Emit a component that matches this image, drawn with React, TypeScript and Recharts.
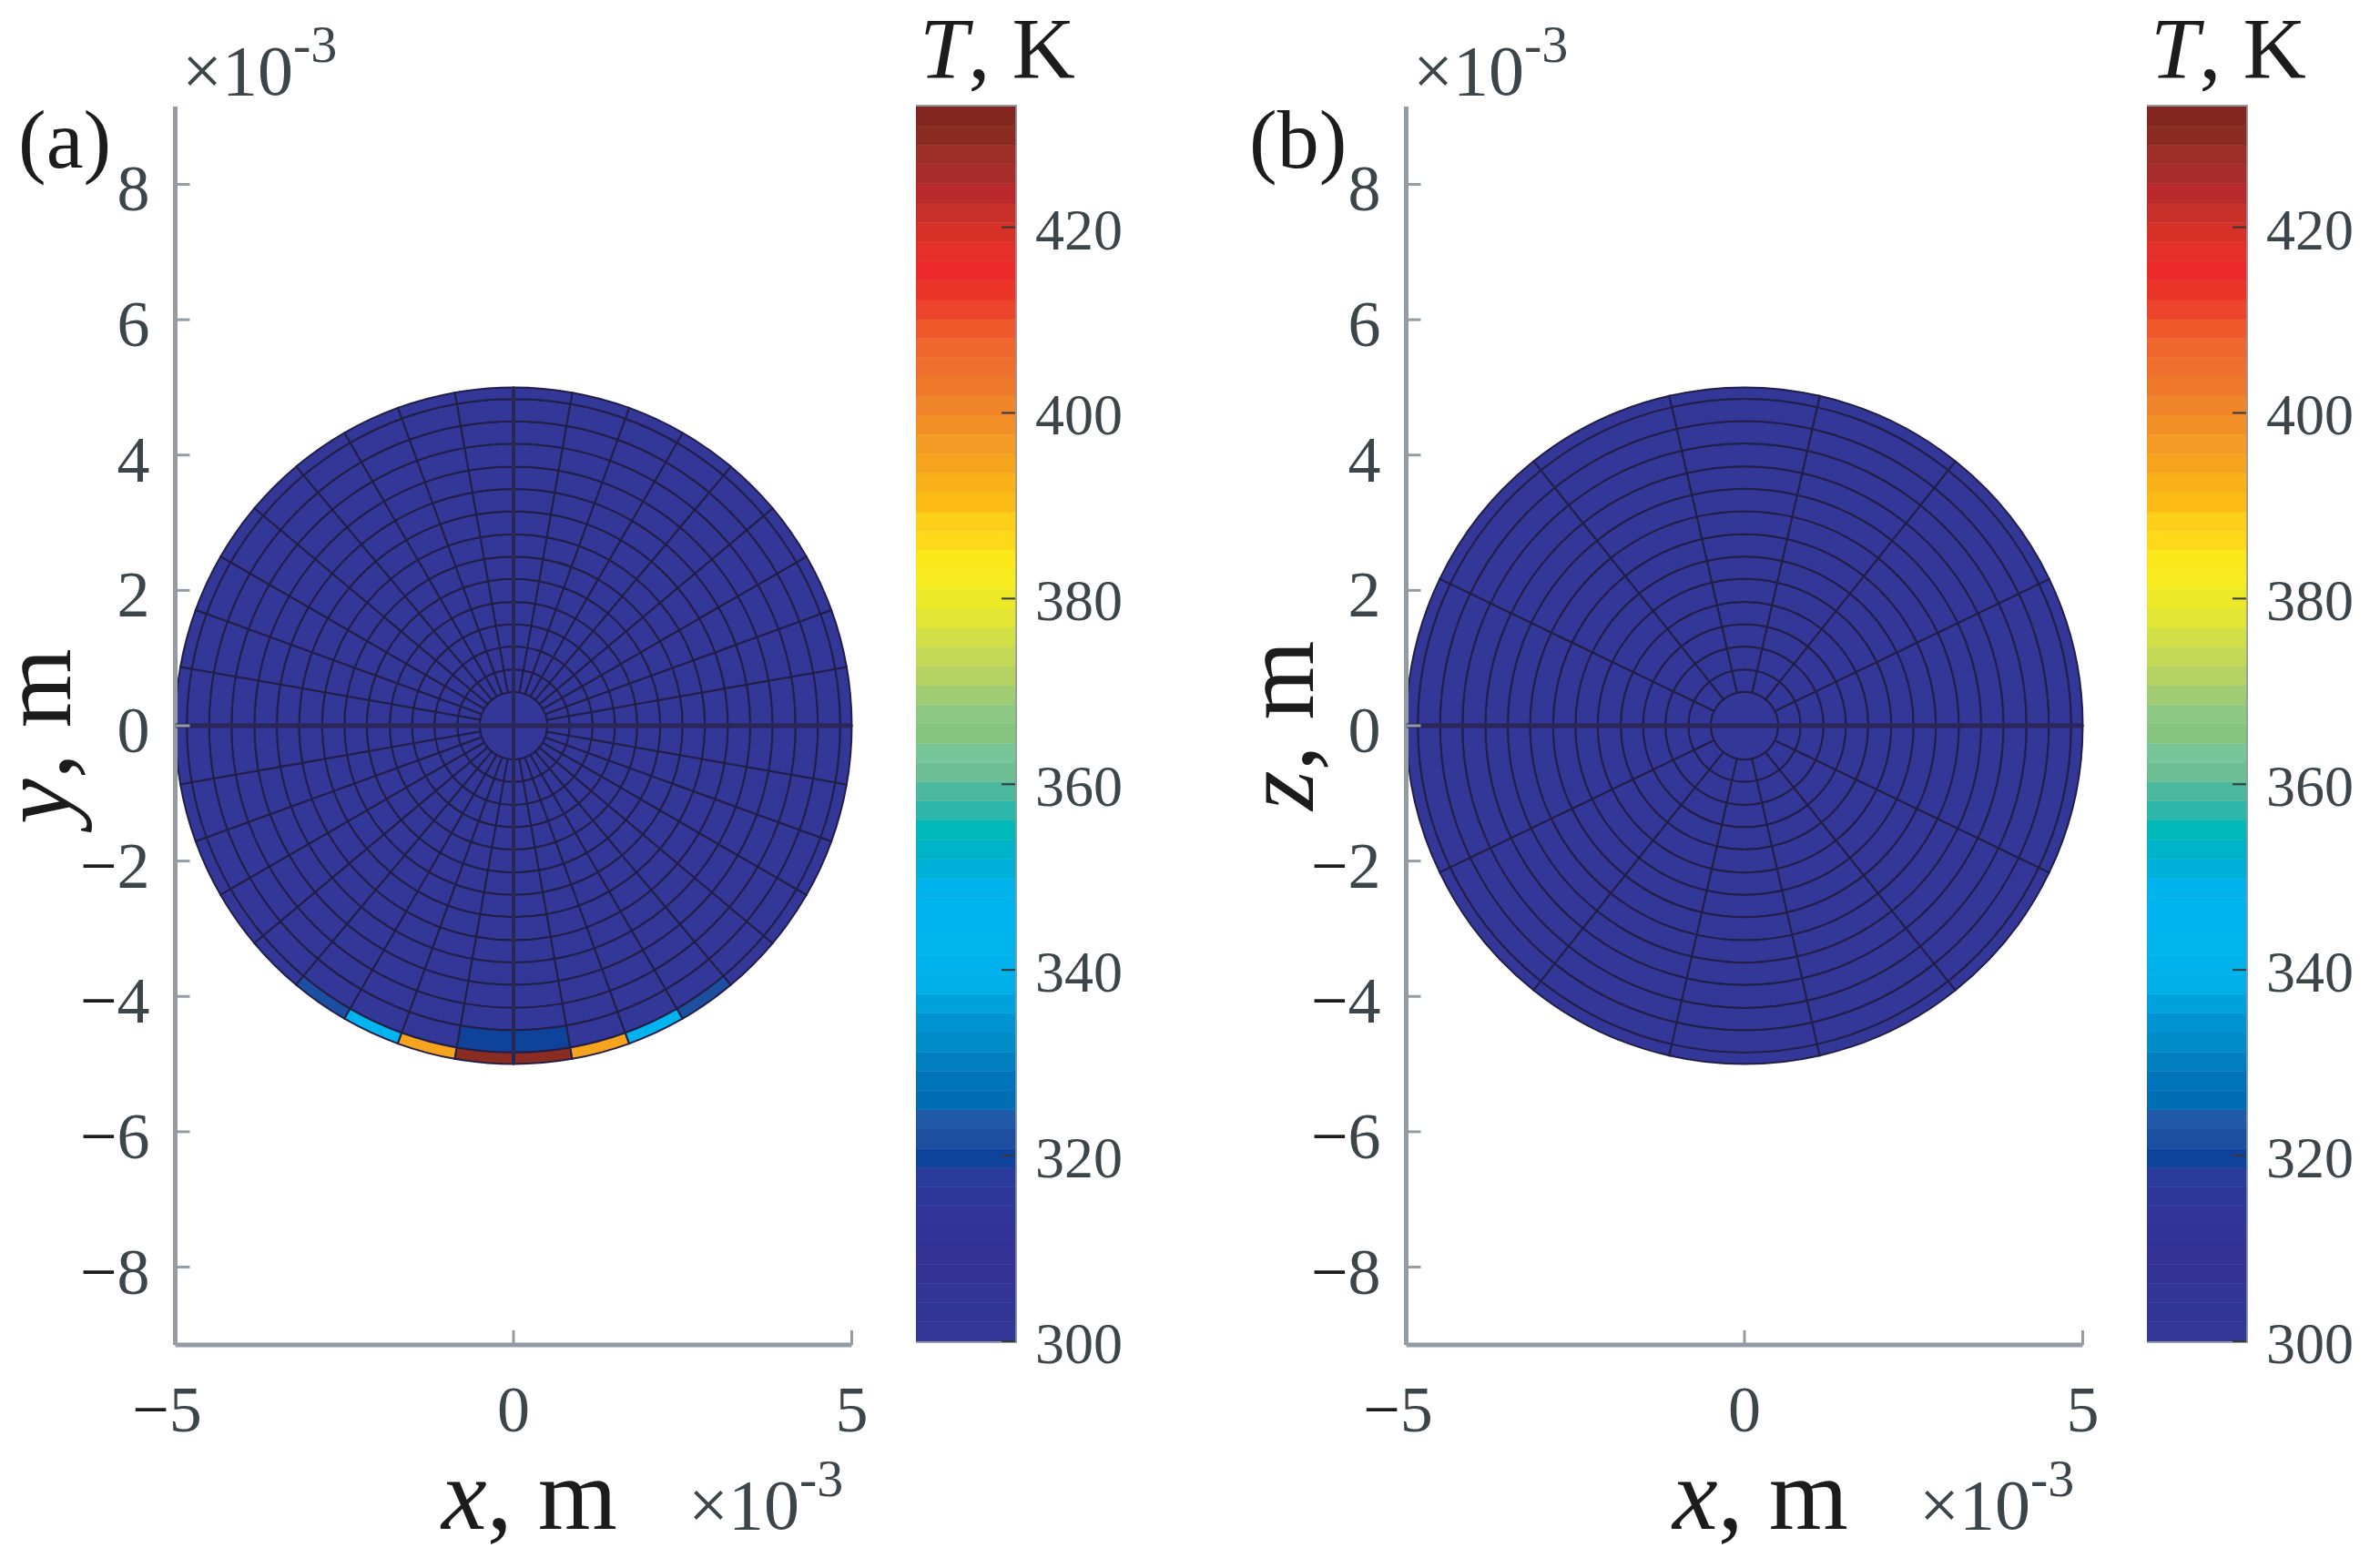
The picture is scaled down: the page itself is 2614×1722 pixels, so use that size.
import { Bar, BarChart, Cell, Pie, PieChart, ReferenceArea, Scatter, ScatterChart, XAxis, YAxis } from "recharts";

// mesh radii in units of 1e-3 m
const ringRadii = [0.5, 0.83, 1.17, 1.5, 1.83, 2.17, 2.5, 2.83, 3.17, 3.5, 3.83, 4.17, 4.5, 4.83, 5];
const xTicks = [-5, 0, 5];
const yTicks = [-8, -6, -4, -2, 0, 2, 4, 6, 8];
const barTicks = [300, 320, 340, 360, 380, 400, 420];

// the centre cell is one piece
const centreTemps = [300];
// temperature per mesh cell, counter-clockwise from +x, 10 deg per sector (panel a)
const coolTempsA = [
  300, 300, 300, 300, 300, 300, 300, 300, 300, 300, 300, 300, 300, 300, 300, 300, 300, 300,
  300, 300, 300, 300, 300, 300, 300, 300, 300, 300, 300, 300, 300, 300, 300, 300, 300, 300,
];
const edgeTempsA = [
  300, 300, 300, 300, 300, 300, 300, 300, 300, 300, 300, 300, 300, 300, 300, 300, 300, 300,
  300, 300, 300, 300, 300, 322, 345, 394, 430, 430, 394, 345, 322, 300, 300, 300, 300, 300,
];
const subEdgeTempsA = [
  300, 300, 300, 300, 300, 300, 300, 300, 300, 300, 300, 300, 300, 300, 300, 300, 300, 300,
  300, 300, 300, 300, 300, 300, 300, 300, 320, 320, 300, 300, 300, 300, 300, 300, 300, 300,
];
// panel b only has 14 sectors and stays cold
const coolTempsB = [300, 300, 300, 300, 300, 300, 300, 300, 300, 300, 300, 300, 300, 300];

// the 64 colorbar bands, from 300 K upwards
const bandColors = [
  "#333797", "#313696", "#323596", "#333396", "#343295", "#323396", "#303597", "#2d3899", "#2b3b9b",
  "#0f439b", "#1c4fa0", "#2159a8", "#016db5", "#0073ba", "#007ec0", "#008cc9", "#0094d3", "#00a2dd",
  "#00aee8", "#00b2ec", "#00b4ee", "#00b5ef", "#00b5ef", "#00b3ec", "#00b0d8", "#00b3c8", "#00b9b8",
  "#2db8ab", "#4cb89d", "#6dbf93", "#79c59a", "#86c57f", "#8ec986", "#a2cc74", "#b5d362", "#c4d956",
  "#d2df46", "#e2e533", "#ecea28", "#f7ec1f", "#fbe81a", "#fdd91a", "#fdcf19", "#fbba14", "#fab017",
  "#f6a41e", "#f59b26", "#f28f27", "#f08629", "#ef792b", "#ef702d", "#ee672d", "#ee582b", "#ed452d",
  "#ec3429", "#ec2a2c", "#e5302b", "#d63027", "#c8302a", "#ba2a2c", "#a92c2c", "#9d2f28", "#8a2c22",
  "#82261f",
];

const T_MIN = 300;
const T_MAX = 433;
const BAND = (T_MAX - T_MIN) / bandColors.length;

const barRow: Record<string, number | string> = { name: "T", base: T_MIN };
bandColors.forEach((_, i) => {
  barRow[`b${i}`] = BAND;
});

const tempColor = (t: number) =>
  bandColors[Math.min(bandColors.length - 1, Math.floor((t - T_MIN) / BAND))];

const SERIF = "Liberation Serif";
const GREY = "#939ba3";
const INK = "#3c4549";
const MESH = "#221e48";

// panel geometry in page pixels
const PANEL_W = 1260;
const PLOT_L = 192.5;
const PLOT_R = 935.5;
const PLOT_T = 117;
const PLOT_B = 1477;
const BAR_L = 1006;
const BAR_W = 109;
const BAR_B = 1473;
const PX_PER_UNIT = (PLOT_R - PLOT_L) / 10;
const CX = (PLOT_L + PLOT_R) / 2;
const CY = (PLOT_T + PLOT_B) / 2;

const Signed = ({ v }: { v: number }) =>
  v < 0 ? (
    <>
      <tspan fill="#1c1c1c">{"\u2212"}</tspan>
      {Math.abs(v)}
    </>
  ) : (
    <>{v}</>
  );

const YTick = ({ x, y, payload }: any) => (
  <g>
    <line x1={x} x2={x + 16} y1={y} y2={y} stroke={GREY} strokeWidth={3} />
    <text x={x - 28} y={y + 29} textAnchor="end" fontFamily={SERIF} fontSize={72} fill={INK}>
      <Signed v={payload.value} />
    </text>
  </g>
);

const XTick = ({ x, y, payload }: any) => (
  <g>
    <line x1={x} x2={x} y1={y} y2={y - 16} stroke={GREY} strokeWidth={3} />
    <text x={x - (payload.value < 0 ? 9 : 0)} y={y + 95} textAnchor="middle" fontFamily={SERIF} fontSize={72} fill={INK}>
      <Signed v={payload.value} />
    </text>
  </g>
);

const BarTick = ({ x, y, payload }: any) => (
  <g>
    <line x1={x - 15} x2={x} y1={y} y2={y} stroke="#34393d" strokeWidth={2} />
    <text x={x + 22} y={y + 24} fontFamily={SERIF} fontSize={64} fill={INK}>
      {payload.value}
    </text>
  </g>
);

const Exponent = ({ x, y }: { x: number; y: number }) => (
  <text x={x} y={y} fontFamily={SERIF} fontSize={78} fill={INK}>
    {"\u00d710"}
    <tspan fontSize={58} dy={-36}>
      -3
    </tspan>
  </text>
);

interface PanelProps {
  left: number;
  tag: string;
  yName: string;
  yLabelX: number;
  yLabelY: number;
  ringTemps: number[][];
  crossLines: boolean;
}

function Panel({ left, tag, yName, yLabelX, yLabelY, ringTemps, crossLines }: PanelProps) {
  return (
    <div style={{ position: "absolute", left, top: 0, width: PANEL_W, height: 1722 }}>
      <div style={{ position: "absolute", left: 0, top: 0 }}>
        <PieChart width={PANEL_W} height={1722} margin={{ top: 0, right: 0, bottom: 0, left: 0 }}>
          {ringTemps.map((temps, r) => (
            <Pie
              key={r}
              data={temps.map((t) => ({ span: 360 / temps.length, t }))}
              dataKey="span"
              cx={CX}
              cy={CY}
              innerRadius={r === 0 ? 0 : ringRadii[r - 1] * PX_PER_UNIT}
              outerRadius={ringRadii[r] * PX_PER_UNIT}
              startAngle={0}
              endAngle={360}
              paddingAngle={0}
              stroke={MESH}
              strokeWidth={2}
              isAnimationActive={false}
            >
              {temps.map((t, i) => (
                <Cell key={i} fill={tempColor(t)} />
              ))}
            </Pie>
          ))}
        </PieChart>
      </div>

      <div style={{ position: "absolute", left: 0, top: 0 }}>
        <ScatterChart
          width={PANEL_W}
          height={1722}
          margin={{ top: PLOT_T, right: PANEL_W - PLOT_R, bottom: 1722 - PLOT_B - 1, left: PLOT_L - 1 }}
        >
          <XAxis
            type="number"
            dataKey="x"
            domain={[-5, 5]}
            ticks={xTicks}
            height={1}
            allowDataOverflow
            axisLine={{ stroke: GREY, strokeWidth: 5 }}
            tickLine={false}
            tickSize={0}
            tickMargin={0}
            tick={XTick}
            interval={0}
          />
          <YAxis
            type="number"
            dataKey="y"
            domain={[-9.15, 9.15]}
            ticks={yTicks}
            width={1}
            allowDataOverflow
            axisLine={{ stroke: GREY, strokeWidth: 5 }}
            tickLine={false}
            tickSize={0}
            tickMargin={0}
            tick={YTick}
            interval={0}
          />
          <Scatter
            data={[
              { x: -5, y: 0 },
              { x: 5, y: 0 },
            ]}
            line={{ stroke: "#2a2658", strokeWidth: 5 }}
            shape={() => null}
            isAnimationActive={false}
          />
          {crossLines && (
            <Scatter
              data={[
                { x: 0, y: -5 },
                { x: 0, y: 5 },
              ]}
              line={{ stroke: "#2a2658", strokeWidth: 4 }}
              shape={() => null}
              isAnimationActive={false}
            />
          )}
          <text x={20} y={184} fontFamily={SERIF} fontSize={92} fill="#1c1c1c">
            {tag}
          </text>
          <Exponent x={200} y={104} />
          <Exponent x={756} y={1679} />
          <text x={485} y={1679} fontFamily={SERIF} fontSize={112} fill="#1c1c1c">
            <tspan fontStyle="italic">x</tspan>, m
          </text>
          <text
            x={yLabelX}
            y={yLabelY}
            transform={`rotate(-90 ${yLabelX} ${yLabelY})`}
            fontFamily={SERIF}
            fontSize={112}
            fill="#1c1c1c"
          >
            <tspan fontStyle="italic">{yName}</tspan>, m
          </text>
        </ScatterChart>
      </div>

      <div style={{ position: "absolute", left: BAR_L, top: 0 }}>
        <BarChart
          width={250}
          height={1722}
          data={[barRow]}
          barCategoryGap={0}
          margin={{ top: PLOT_T, right: 250 - BAR_W - 1, bottom: 1722 - BAR_B, left: 0 }}
        >
          <XAxis dataKey="name" hide />
          <YAxis
            orientation="right"
            type="number"
            domain={[T_MIN, T_MAX]}
            ticks={barTicks}
            width={1}
            allowDataOverflow
            axisLine={false}
            tickLine={false}
            tickSize={0}
            tickMargin={0}
            tick={BarTick}
            interval={0}
          />
          <Bar dataKey="base" stackId="t" fill="none" isAnimationActive={false} />
          {bandColors.map((c, i) => (
            <Bar key={c + i} dataKey={`b${i}`} stackId="t" fill={c} stroke={c} strokeWidth={0.5} isAnimationActive={false} />
          ))}
          <ReferenceArea y1={T_MIN} y2={T_MAX} fill="none" stroke={GREY} strokeWidth={4} />
          <text x={4} y={86} fontFamily={SERIF} fontSize={96} fill="#1c1c1c">
            <tspan fontStyle="italic">T</tspan>, K
          </text>
        </BarChart>
      </div>
    </div>
  );
}

const panelATemps = ringRadii.map((_, r) =>
  r === 0 ? centreTemps : r === ringRadii.length - 1 ? edgeTempsA : r === ringRadii.length - 2 ? subEdgeTempsA : coolTempsA,
);
const panelBTemps = ringRadii.map((_, r) => (r === 0 ? centreTemps : coolTempsB));

export default function App() {
  return (
    <div style={{ position: "absolute", left: 0, top: 0, width: 2614, height: 1722, background: "#fff", overflow: "hidden" }}>
      <Panel left={0} tag="(a)" yName="y" yLabelX={77} yLabelY={905} ringTemps={panelATemps} crossLines />
      <Panel left={1352} tag="(b)" yName="z" yLabelX={90} yLabelY={890} ringTemps={panelBTemps} crossLines={false} />
    </div>
  );
}
